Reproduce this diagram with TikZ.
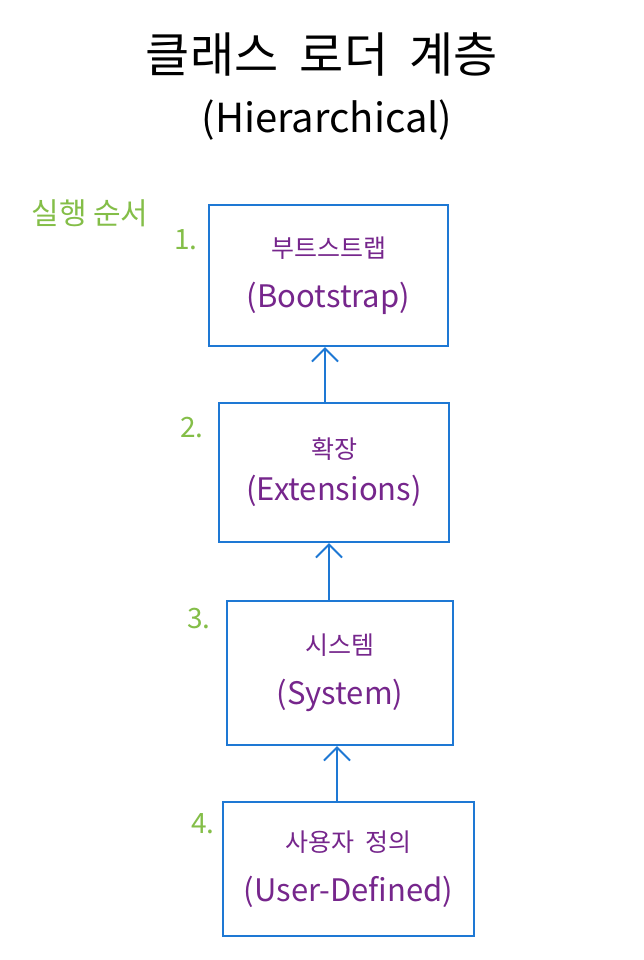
\documentclass[tikz,border=0pt]{standalone}
\usepackage{fontspec}
\setmainfont{Noto Sans CJK KR}
\usetikzlibrary{arrows.meta}
\newcommand\engsize{\fontsize{31}{50}\selectfont}

\begin{document}
\begin{tikzpicture}[x=1pt,y=-1pt,
	loader/.style={draw=cblue,line width=2.2pt,text=cpurple,align=center,font=\fontsize{25}{50}\selectfont},
	order/.style={text=cgreen,font=\fontsize{28}{30}\selectfont},
	arr/.style={draw=cblue,line width=2.2pt,-{Straight Barb[length=13pt,width=26pt,line width=2pt]}}]
\definecolor{cblue}{RGB}{30,120,212}      %box blue
\definecolor{cpurple}{RGB}{118,38,140}    %pen purple
\definecolor{cgreen}{RGB}{132,190,72}     %pen green
\useasboundingbox[fill=white] (0,0) rectangle (644,960);
\node (title) at (322,55) {\fontsize{48}{52}\selectfont 클래스 \ 로더 \ 계층};
\node (subtitle) at (327,120) {\fontsize{40}{44}\selectfont (Hierarchical)};
\node [order,font=\fontsize{30}{32}\selectfont] (seq) at (90,213) {실행 순서};
\node [loader,minimum width=239pt,minimum height=141pt] (boot) at (328.5,275.5) {부트스트랩\\{\engsize (Bootstrap)}};
\node [loader,minimum width=230pt,minimum height=139pt,font=\fontsize{25}{42}\selectfont] (ext) at (334,472.5) {확장\\{\fontsize{31}{42}\selectfont (Extensions)}};
\node [loader,minimum width=226pt,minimum height=144pt] (sys) at (340,673) {시스템\\{\engsize (System)}};
\node [loader,minimum width=251pt,minimum height=134pt] (user) at (348.5,869) {사용자 \ 정의\\{\engsize (User-Defined)}};
\node [order] (n1) at (186,240) {1.};
\node [order] (n2) at (192,428) {2.};
\node [order] (n3) at (199,619) {3.};
\node [order] (n4) at (203,824) {4.};
\draw [arr] ([xshift=-9pt]ext.north) -- ([xshift=-9pt]ext.north |- boot.south);
\draw [arr] ([xshift=-11pt]sys.north) -- ([xshift=-11pt]sys.north |- ext.south);
\draw [arr] ([xshift=-11.5pt]user.north) -- ([xshift=-11.5pt]user.north |- sys.south);
\end{tikzpicture}
\end{document}
